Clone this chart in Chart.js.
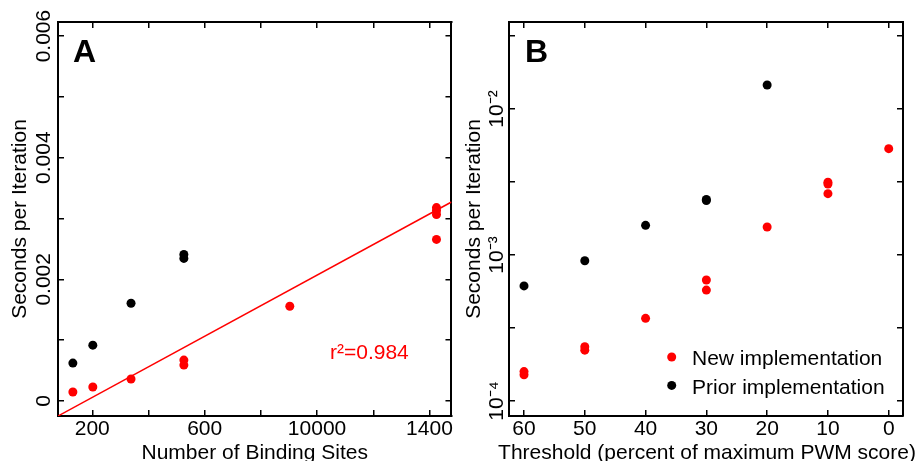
<!DOCTYPE html>
<html>
<head>
<meta charset="utf-8">
<script src="https://cdn.jsdelivr.net/npm/chart.js@4.4.1/dist/chart.umd.min.js"></script>
<style>
  body { margin: 0; background: #fff; }
  #wrap { position: relative; width: 921px; height: 461px; }
  canvas { position: absolute; top: 0; }
</style>
</head>
<body>
<div id="wrap">
  <canvas id="chartA" width="460" height="461" style="left:0"></canvas>
  <canvas id="chartB" width="461" height="461" style="left:460px"></canvas>
</div>
<script>
// Panel A: seconds per iteration vs number of binding sites
const sitesPrior = [131, 202, 338, 526, 526];
const secsPrior = [0.000623, 0.000918, 0.001607, 0.00241, 0.002344];
const sitesNew = [131, 202, 338, 526, 526, 903, 1425, 1425, 1425, 1425];
const secsNew = [0.000148, 0.00023, 0.000361, 0.000672, 0.00059, 0.001557, 0.00318, 0.003131, 0.003066, 0.002656];
const fitSlope = 2.5125e-6;
const fitIntercept = -0.000443;
const fitLabel = 'r²=0.984';

const xTicksA = [200, 400, 600, 800, 1000, 1200, 1400];
const xTickLabelsA = ['200', '', '600', '', '10000', '', '1400'];
const yTicksA = [0, 0.001, 0.002, 0.003, 0.004, 0.005, 0.006];
const yTickLabelsA = ['0', '', '0.002', '', '0.004', '', '0.006'];

// Panel B: seconds per iteration vs threshold (log scale)
const thresholdPrior = [60, 50, 40, 30, 30, 20];
const timePrior = [6.14e-4, 9.14e-4, 1.596e-3, 2.40e-3, 2.36e-3, 1.46e-2];
const thresholdNew = [60, 60, 50, 50, 40, 30, 30, 20, 10, 10, 10, 0];
const timeNew = [1.59e-4, 1.51e-4, 2.35e-4, 2.23e-4, 3.68e-4, 6.74e-4, 5.75e-4, 1.556e-3, 3.15e-3, 3.06e-3, 2.63e-3, 5.35e-3];

const xTicksB = [60, 50, 40, 30, 20, 10, 0];
const xTickLabelsB = ['60', '50', '40', '30', '20', '10', '0'];
const yTicksB = [1e-4, 3.1623e-4, 1e-3, 3.1623e-3, 1e-2, 3.1623e-2];
const yTickLabelsB = ['10⁻⁴', '', '10⁻³', '', '10⁻²', ''];

const seriesNames = ['New implementation', 'Prior implementation'];
const red = '#ff0000';
const black = '#000000';
const fontName = "'Liberation Sans', Arial, sans-serif";
const fontSize = 21;

Chart.defaults.font.family = fontName;
Chart.defaults.font.size = fontSize;
Chart.defaults.color = '#000';

function toPoints(xs, ys) {
    return xs.map((x, i) => ({x: x, y: ys[i]}));
}

function labelWidth(labels) {
    const ctx = document.createElement('canvas').getContext('2d');
    ctx.font = fontSize + 'px ' + fontName;
    return Math.max(...labels.map(l => ctx.measureText(l).width));
}

// one framed axis with inward tick marks
function axis(position, type, min, max, tickValues, labels, size, extra) {
    const sc = {
        type: type,
        position: position,
        min: min,
        max: max,
        afterBuildTicks: s => { s.ticks = tickValues.map(v => ({value: v})); },
        afterFit: s => {
            if (s.isHorizontal()) s.height = size; else s.width = size;
        },
        ticks: {
            display: labels != null,
            autoSkip: false,
            color: '#000',
            font: {size: fontSize},
            callback: (v, i) => labels ? labels[i] : ''
        },
        grid: {drawOnChartArea: false, drawTicks: true, tickLength: -6, color: '#000', lineWidth: 1.5},
        border: {display: true, color: '#000', width: 2}
    };
    if (extra) {
        Object.keys(extra).forEach(k => {
            sc[k] = (typeof extra[k] === 'object' && sc[k]) ? Object.assign({}, sc[k], extra[k]) : extra[k];
        });
    }
    return sc;
}

const xMinA = 78.1, xMaxA = 1478.3;
const yMinA = -0.000247, yMaxA = 0.006231;

const panelA = {
    id: 'panelA',
    afterDraw(chart) {
        const ctx = chart.ctx;
        const area = chart.chartArea;
        ctx.save();
        ctx.fillStyle = '#000';
        ctx.textBaseline = 'alphabetic';
        ctx.font = 'bold 32px ' + fontName;
        ctx.fillText('A', area.left + 15, area.top + 40);
        ctx.fillStyle = red;
        ctx.font = fontSize + 'px ' + fontName;
        ctx.fillText(fitLabel, area.left + 272, 359);
        ctx.restore();
    }
};

new Chart(document.getElementById('chartA'), {
    type: 'scatter',
    data: {
        datasets: [{
            type: 'line',
            label: 'fit',
            data: [
                {x: xMinA, y: fitIntercept + fitSlope * xMinA},
                {x: xMaxA, y: fitIntercept + fitSlope * xMaxA}
            ],
            borderColor: red,
            borderWidth: 1.5,
            pointRadius: 0,
            fill: false
        }, {
            label: seriesNames[0],
            data: toPoints(sitesNew, secsNew),
            backgroundColor: red,
            borderWidth: 0,
            pointRadius: 4.5
        }, {
            label: seriesNames[1],
            data: toPoints(sitesPrior, secsPrior),
            backgroundColor: black,
            borderWidth: 0,
            pointRadius: 4.5
        }]
    },
    options: {
        responsive: false,
        animation: false,
        devicePixelRatio: 1,
        layout: {padding: {left: 0, top: 22, right: 8, bottom: 0}},
        plugins: {legend: {display: false}, tooltip: {enabled: false}},
        scales: {
            x: axis('bottom', 'linear', xMinA, xMaxA, xTicksA, xTickLabelsA, 45, {
                ticks: {padding: 6.7},
                title: {display: true, text: 'Number of Binding Sites', font: {size: fontSize}, color: '#000', padding: {top: 0, bottom: -4.4}}
            }),
            x2: axis('top', 'linear', xMinA, xMaxA, xTicksA, null, 0),
            y: axis('left', 'linear', yMinA, yMaxA, yTicksA, yTickLabelsA, 58, {
                ticks: {minRotation: 90, maxRotation: 90, crossAlign: 'center', padding: 19.7 - labelWidth(yTickLabelsA) / 2},
                title: {display: true, text: 'Seconds per Iteration', font: {size: fontSize}, color: '#000', padding: 7.6}
            }),
            y2: axis('right', 'linear', yMinA, yMaxA, yTicksA, null, 0)
        }
    },
    plugins: [panelA]
});

const panelB = {
    id: 'panelB',
    afterDraw(chart) {
        const ctx = chart.ctx;
        const area = chart.chartArea;
        ctx.save();
        ctx.fillStyle = '#000';
        ctx.textBaseline = 'alphabetic';
        ctx.font = 'bold 32px ' + fontName;
        ctx.fillText('B', area.left + 16, area.top + 40);
        // legend
        ctx.font = fontSize + 'px ' + fontName;
        chart.data.datasets.forEach((ds, i) => {
            const y = 357 + i * 28.4;
            ctx.fillStyle = ds.backgroundColor;
            ctx.beginPath();
            ctx.arc(211.7, y, 4.5, 0, 2 * Math.PI);
            ctx.fill();
            ctx.fillStyle = '#000';
            ctx.fillText(ds.label, 232, y + 8.3);
        });
        // x title, wider than the plot area
        ctx.textAlign = 'center';
        ctx.fillText('Threshold (percent of maximum PWM score)', (area.left + area.right) / 2 + 1, 459);
        ctx.restore();
    }
};

new Chart(document.getElementById('chartB'), {
    type: 'scatter',
    data: {
        datasets: [{
            label: seriesNames[0],
            data: toPoints(thresholdNew, timeNew),
            backgroundColor: red,
            borderWidth: 0,
            pointRadius: 4.5
        }, {
            label: seriesNames[1],
            data: toPoints(thresholdPrior, timePrior),
            backgroundColor: black,
            borderWidth: 0,
            pointRadius: 4.5
        }]
    },
    options: {
        responsive: false,
        animation: false,
        devicePixelRatio: 1,
        layout: {padding: {left: 0, top: 22, right: 18, bottom: 0}},
        plugins: {legend: {display: false}, tooltip: {enabled: false}},
        scales: {
            x: axis('bottom', 'linear', -2.35, 62.47, xTicksB, xTickLabelsB, 45, {
                reverse: true,
                ticks: {padding: 6.7}
            }),
            x2: axis('top', 'linear', -2.35, 62.47, xTicksB, null, 0, {reverse: true}),
            y: axis('left', 'logarithmic', 7.89e-5, 0.03945, yTicksB, yTickLabelsB, 49, {
                ticks: {minRotation: 90, maxRotation: 90, crossAlign: 'center', padding: 17.5 - labelWidth(yTickLabelsB) / 2},
                title: {display: true, text: 'Seconds per Iteration', font: {size: fontSize}, color: '#000', padding: 1.2}
            }),
            y2: axis('right', 'logarithmic', 7.89e-5, 0.03945, yTicksB, null, 0)
        }
    },
    plugins: [panelB]
});
</script>
</body>
</html>
